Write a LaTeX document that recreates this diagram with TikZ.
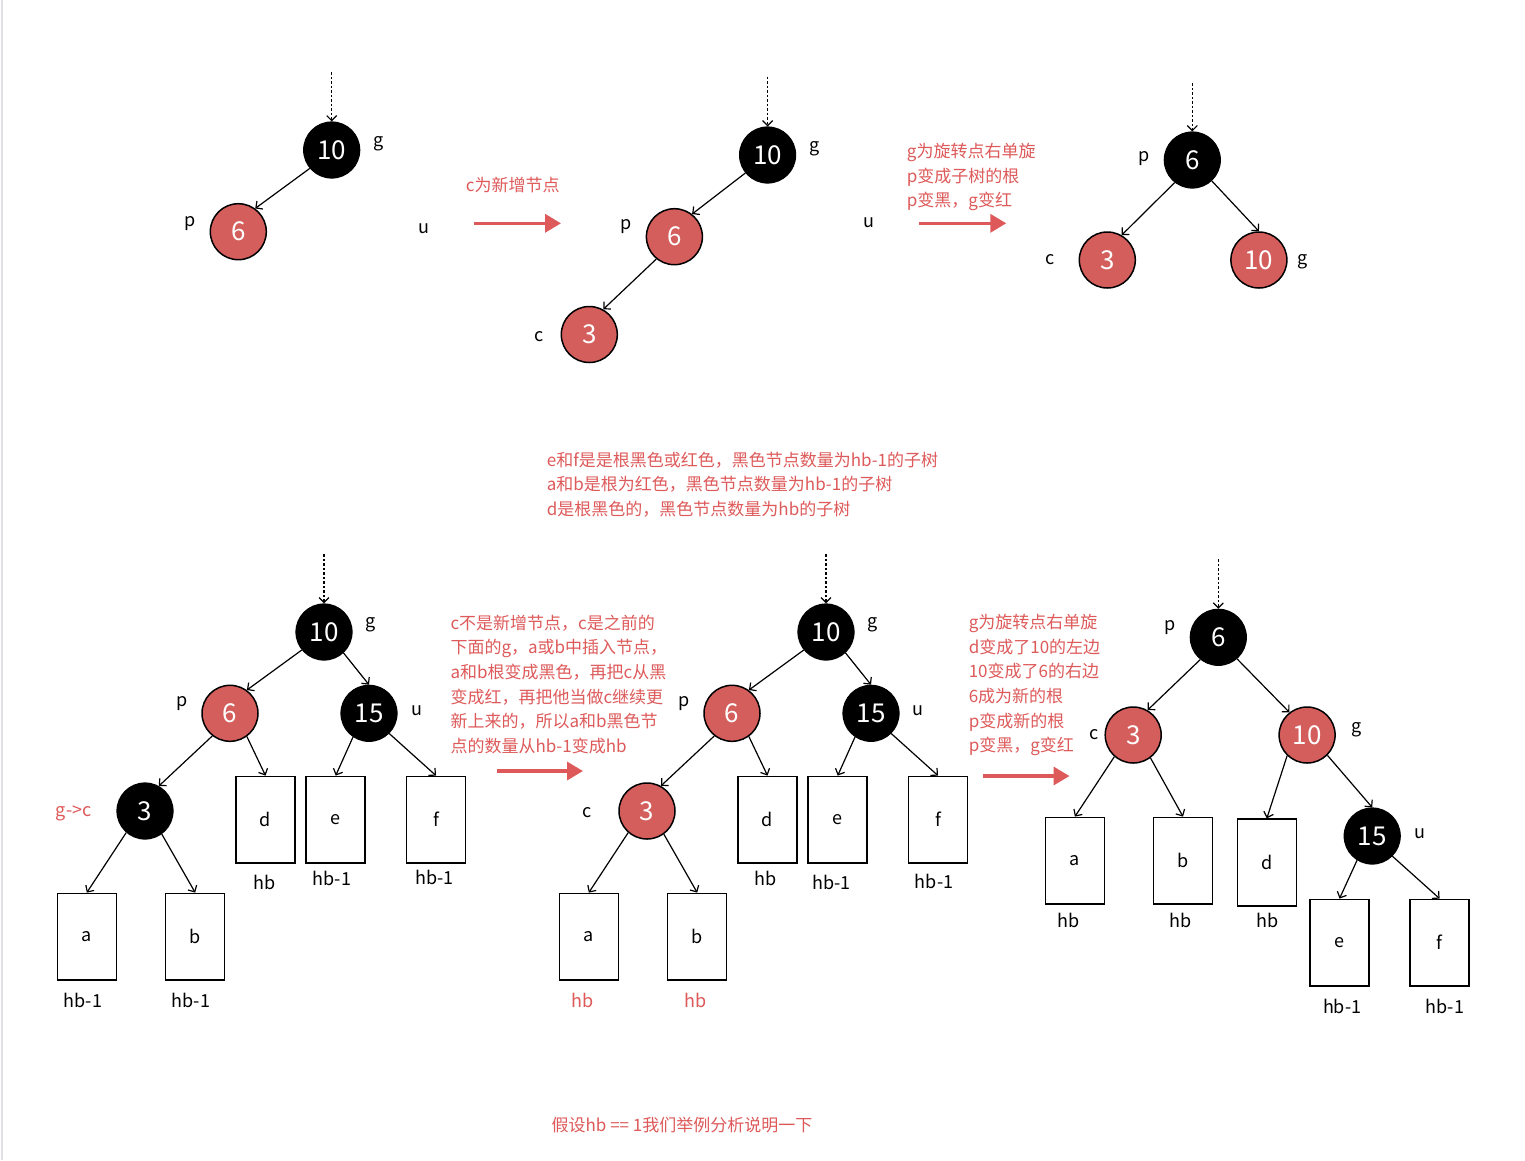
\documentclass[tikz,border=0pt]{standalone}
\usepackage{fontspec}
\setmainfont{Noto Sans CJK SC}
\usetikzlibrary{arrows.meta}
\definecolor{nodered}{RGB}{212,94,92}
\definecolor{notered}{RGB}{222,90,90}
\definecolor{edgegray}{RGB}{224,224,230}
\tikzset{
 blknode/.style={circle, draw=black, fill=black, line width=1.2pt, minimum size=56pt, inner sep=0pt, text=white, font=\fontsize{26}{28}\selectfont},
 rednode/.style={circle, draw=black, fill=nodered, line width=1.5pt, minimum size=56pt, inner sep=0pt, text=white, font=\fontsize{26}{28}\selectfont},
 subtree/.style={draw=black, line width=1.5pt, minimum width=59pt, minimum height=86.7pt, inner sep=0pt, font=\fontsize{18}{20}\selectfont},
 tag/.style={inner sep=0pt, font=\fontsize{18}{20}\selectfont},
 redtag/.style={tag, text=notered},
 note/.style={inner sep=0pt, text=notered, align=left, anchor=north west, font=\fontsize{17}{24.6}\selectfont},
 onenote/.style={inner sep=0pt, text=notered, font=\fontsize{17}{20}\selectfont},
 link/.style={draw=black, line width=1.2pt, -{Straight Barb[length=5pt,width=10pt]}},
 dotlink/.style={link, dash pattern=on 2.5pt off 2pt},
 bigarrow/.style={draw=notered, line width=3.5pt, -{Triangle[length=16pt,width=18pt]}},
}
\begin{document}
\begin{tikzpicture}[x=1pt,y=-1pt]
\useasboundingbox (0,0) rectangle (1525,1160);
\fill[white] (0,0) rectangle (1525,1160);
\draw[edgegray, line width=1.5pt] (2,0) -- (2,1160);

% ---------- top tree 1 ----------
\coordinate (t1top) at (331.7,72);
\node[blknode] (t1g) at (331.7,150) {10};
\node[tag] (t1gl) at (378.3,143.3) {g};
\node[rednode] (t1p) at (238.3,231.7) {6};
\node[tag] (t1pl) at (190,223.3) {p};
\node[tag] (t1ul) at (424,229) {u};
\draw[dotlink] (t1top) -- (t1g.north);
\draw[link] (t1g.220) -- (t1p.54);

\node[onenote] (n1) at (512.8,185) {c为新增节点};
\coordinate (ar1s) at (474.3,223.3);
\coordinate (ar1e) at (561,223.3);
\draw[bigarrow] (ar1s) -- (ar1e);

% ---------- top tree 2 ----------
\coordinate (t2top) at (767.6,76.7);
\node[blknode] (t2g) at (767.6,155) {10};
\node[tag] (t2gl) at (814.4,148.3) {g};
\node[rednode] (t2p) at (674.4,236.7) {6};
\node[tag] (t2pl) at (626.2,226.7) {p};
\node[rednode] (t2c) at (589.3,334.5) {3};
\node[tag] (t2cl) at (539,336.7) {c};
\node[tag] (t2ul) at (868.6,222.3) {u};
\draw[dotlink] (t2top) -- (t2g.north);
\draw[link] (t2g.219) -- (t2p.52);
\draw[link] (t2p.231) -- (t2c.61);

\node[note] (n2) at (906.7,143.2) {g为旋转点右单旋\\p变成子树的根\\p变黑，g变红};
\coordinate (ar2s) at (919.1,223.3);
\coordinate (ar2e) at (1006.3,223.3);
\draw[bigarrow] (ar2s) -- (ar2e);

% ---------- top tree 3 ----------
\coordinate (t3top) at (1192.3,83.3);
\node[blknode] (t3p) at (1192.3,160) {6};
\node[tag] (t3pl) at (1144,158.3) {p};
\node[rednode] (t3c) at (1107.3,260) {3};
\node[tag] (t3cl) at (1050,260) {c};
\node[rednode] (t3g) at (1258.9,260) {10};
\node[tag] (t3gl) at (1302.5,261.7) {g};
\draw[dotlink] (t3top) -- (t3p.north);
\draw[link] (t3p.232) -- (t3c.60);
\draw[link] (t3p.313) -- (t3g.north);

% ---------- middle note ----------
\node[note] (n3) at (546.7,451.5) {e和f是是根黑色或红色，黑色节点数量为hb-1的子树\\a和b是根为红色，黑色节点数量为hb-1的子树\\d是根黑色的，黑色节点数量为hb的子树};

% ---------- bottom tree 1 ----------
\coordinate (b1top) at (324,554);
\node[blknode] (b1g) at (324,632) {10};
\node[tag] (b1gl) at (370.7,625) {g};
\node[rednode] (b1p) at (230,713.3) {6};
\node[tag] (b1pl) at (182.3,704) {p};
\node[blknode] (b1u) at (369,713.3) {15};
\node[tag] (b1ul) at (416.7,711) {u};
\node[blknode] (b1c) at (145,811) {3};
\node[redtag] (b1cl) at (73.7,813) {g->c};
\node[subtree] (b1a) at (86.8,936.7) {a};
\node[subtree] (b1b) at (195.2,936.7) {b};
\node[subtree] (b1d) at (265.5,819.7) {d};
\node[subtree] (b1e) at (335.7,819.7) {e};
\node[subtree] (b1f) at (436,819.7) {f};
\node[tag] (b1al) at (83,1000) {hb-1};
\node[tag] (b1bl) at (191,1000) {hb-1};
\node[tag] (b1dl) at (264.5,882) {hb};
\node[tag] (b1el) at (332,878) {hb-1};
\node[tag] (b1fl) at (434.5,877) {hb-1};
\draw[dotlink] (b1top) -- (b1g.north);
\draw[link] (b1g.219) -- (b1p.54);
\draw[link] (b1g.313) -- (b1u.north);
\draw[link] (b1p.232) -- (b1c.61);
\draw[link] (b1p.306) -- (b1d.north);
\draw[link] (b1u.236) -- (b1e.north);
\draw[link] (b1u.315) -- (b1f.north);
\draw[link] (b1c.229) -- (b1a.north);
\draw[link] (b1c.306) -- (b1b.north);

\node[note] (n4) at (450.3,614.8) {c不是新增节点，c是之前的\\下面的g，a或b中插入节点，\\a和b根变成黑色，再把c从黑\\变成红，再把他当做c继续更\\新上来的，所以a和b黑色节\\点的数量从hb-1变成hb};
\coordinate (ar3s) at (496.8,771);
\coordinate (ar3e) at (583,771);
\draw[bigarrow] (ar3s) -- (ar3e);

% ---------- bottom tree 2 ----------
\coordinate (b2top) at (826,554);
\node[blknode] (b2g) at (826,632) {10};
\node[tag] (b2gl) at (872.2,625) {g};
\node[rednode] (b2p) at (732,713.3) {6};
\node[tag] (b2pl) at (683.8,704) {p};
\node[blknode] (b2u) at (871,713.3) {15};
\node[tag] (b2ul) at (918,711) {u};
\node[rednode] (b2c) at (647,811) {3};
\node[tag] (b2cl) at (587.4,813) {c};
\node[subtree] (b2a) at (588.8,936.7) {a};
\node[subtree] (b2b) at (697.2,936.7) {b};
\node[subtree] (b2d) at (767.5,819.7) {d};
\node[subtree] (b2e) at (837.7,819.7) {e};
\node[subtree] (b2f) at (938,819.7) {f};
\node[redtag] (b2al) at (583,1000) {hb};
\node[redtag] (b2bl) at (695.5,1000) {hb};
\node[tag] (b2dl) at (765.4,878.3) {hb};
\node[tag] (b2el) at (831.5,882.7) {hb-1};
\node[tag] (b2fl) at (934.1,881.7) {hb-1};
\draw[dotlink] (b2top) -- (b2g.north);
\draw[link] (b2g.219) -- (b2p.54);
\draw[link] (b2g.313) -- (b2u.north);
\draw[link] (b2p.232) -- (b2c.61);
\draw[link] (b2p.306) -- (b2d.north);
\draw[link] (b2u.236) -- (b2e.north);
\draw[link] (b2u.315) -- (b2f.north);
\draw[link] (b2c.229) -- (b2a.north);
\draw[link] (b2c.306) -- (b2b.north);

\node[note] (n5) at (968.6,614.2) {g为旋转点右单旋\\d变成了10的左边\\10变成了6的右边\\6成为新的根\\p变成新的根\\p变黑，g变红};
\coordinate (ar4s) at (983.4,776);
\coordinate (ar4e) at (1069.5,776);
\draw[bigarrow] (ar4s) -- (ar4e);

% ---------- bottom tree 3 ----------
\coordinate (b3top) at (1218.3,559.3);
\node[blknode] (b3p) at (1218.3,637.3) {6};
\node[tag] (b3pl) at (1170,628) {p};
\node[rednode] (b3c) at (1133.2,735) {3};
\node[tag] (b3cl) at (1094.3,735) {c};
\node[rednode] (b3g) at (1307.1,735) {10};
\node[tag] (b3gl) at (1357,730) {g};
\node[blknode] (b3u) at (1372.2,836) {15};
\node[tag] (b3ul) at (1419.7,833.3) {u};
\node[subtree] (b3a) at (1074.9,860.7) {a};
\node[subtree] (b3b) at (1183,860.7) {b};
\node[subtree] (b3d) at (1266.8,862.5) {d};
\node[subtree] (b3e) at (1339.5,942.7) {e};
\node[subtree] (b3f) at (1439.6,942.7) {f};
\node[tag] (b3al) at (1068.5,920) {hb};
\node[tag] (b3bl) at (1181,920) {hb};
\node[tag] (b3dl) at (1267.5,920) {hb};
\node[tag] (b3el) at (1342.2,1006.7) {hb-1};
\node[tag] (b3fl) at (1444.8,1006.7) {hb-1};
\draw[dotlink] (b3top) -- (b3p.north);
\draw[link] (b3p.231) -- (b3c.60);
\draw[link] (b3p.311) -- (b3g.128);
\draw[link] (b3c.229) -- (b3a.north);
\draw[link] (b3c.307) -- (b3b.north);
\draw[link] (b3g.226) -- (b3d.north);
\draw[link] (b3g.315) -- (b3u.north);
\draw[link] (b3u.238) -- (b3e.north);
\draw[link] (b3u.315) -- (b3f.north);

% ---------- bottom note ----------
\node[onenote] (n6) at (682,1125) {假设hb == 1我们举例分析说明一下};
\end{tikzpicture}
\end{document}
